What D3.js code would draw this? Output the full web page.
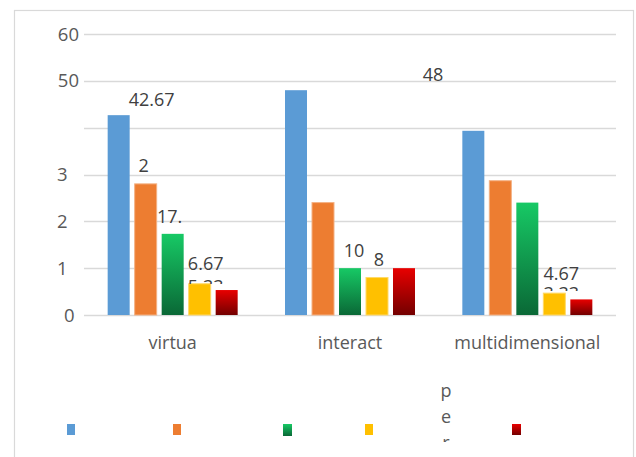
<!DOCTYPE html>
<html>
<head>
<meta charset="utf-8">
<script src="https://cdn.jsdelivr.net/npm/d3@7"></script>
<style>
  body { margin: 0; background: #fff; }
  svg { display: block; font-family: "Open Sans", sans-serif; }
</style>
</head>
<body>
<script>
// ---- data ----
const categories = ["virtua", "interact", "multidimensional"];
const seriesIds = ["s1", "s2", "s3", "s4", "s5"];
const s1Values = [42.67, 48, 39.33];
const s2Values = [28, 24, 28.67];
const s3Values = [17.33, 10, 24];
const s4Values = [6.67, 8, 4.67];
const s5Values = [5.33, 10, 3.33];
// data label text as printed on the chart (some are cut short, some absent)
const s1Labels = ["42.67", "48", ""];
const s2Labels = ["2", "", ""];
const s3Labels = ["17.", "10", ""];
const s4Labels = ["6.67", "8", "4.67"];
const s5Labels = ["5.33", "", "3.33"];
const yTickValues = [0, 10, 20, 30, 40, 50, 60];
const yTickLabels = ["0", "1", "2", "3", "", "50", "60"];
const legendNote = ["p", "e", "r"];

const seriesValues = [s1Values, s2Values, s3Values, s4Values, s5Values];
const seriesLabels = [s1Labels, s2Labels, s3Labels, s4Labels, s5Labels];

// ---- layout ----
const W = 636, H = 457;
const plot = { left: 84, right: 616, top: 34, bottom: 315 };
const fills = ["#5b9bd5", "#ed7d31", "url(#gGreen)", "#ffc000", "url(#gRed)"];
const strokes = ["none", "#f4b183", "none", "#ffd966", "none"];
const legendX = [67, 173, 283, 365, 512];

// label offsets relative to bar centre / bar top
const nudge = {
  "s1|virtua": { dx: 33, dy: -9 },
  "s2|virtua": { dx: -2, dy: -12 },
  "s3|virtua": { dx: -3, dy: -11 },
  "s4|virtua": { dx: 6, dy: -14 },
  "s5|virtua": { dx: -21, dy: 3, clip: 4 },
  "s1|interact": { dx: 137, dy: -9 },
  "s3|interact": { dx: 4, dy: -11 },
  "s4|interact": { dx: 2, dy: -11.5 },
  "s4|multidimensional": { dx: 7, dy: -13 },
  "s5|multidimensional": { dx: -20, dy: 0.6, clip: 4 }
};

const svg = d3.select("body").append("svg").attr("width", W).attr("height", H);
const defs = svg.append("defs");

function vGrad(id, top, bottom) {
  const g = defs.append("linearGradient").attr("id", id)
    .attr("x1", 0).attr("y1", 0).attr("x2", 0).attr("y2", 1);
  g.append("stop").attr("offset", "0%").attr("stop-color", top);
  g.append("stop").attr("offset", "100%").attr("stop-color", bottom);
}
vGrad("gGreen", "#17c965", "#0a6836");
vGrad("gRed", "#e80000", "#730000");

// outer frame
svg.append("rect")
  .attr("x", 14.5).attr("y", 10.5)
  .attr("width", 619).attr("height", 470)
  .attr("fill", "none").attr("stroke", "#d9d9d9").attr("stroke-width", 1.2);

// scales
const y = d3.scaleLinear().domain([0, 60]).range([plot.bottom, plot.top]);
const x0 = d3.scaleBand().domain(categories).range([plot.left, plot.right]).padding(0);
const groupW = 130;
const x1 = d3.scaleBand().domain(seriesIds).range([0, groupW]).paddingInner(5 / 27).paddingOuter(0);
const groupStart = c => x0(c) + (x0.bandwidth() - groupW) / 2;

// gridlines
svg.append("g").selectAll("line").data(yTickValues).join("line")
  .attr("x1", plot.left).attr("x2", plot.right)
  .attr("y1", d => Math.round(y(d)) + 0.5).attr("y2", d => Math.round(y(d)) + 0.5)
  .attr("stroke", "#d9d9d9").attr("stroke-width", 1.3);

// y tick labels
svg.append("g").selectAll("text").data(yTickValues).join("text")
  .text((d, i) => yTickLabels[i])
  .attr("x", (d, i) => {
    const t = yTickLabels[i];
    if (t.length > 1) return 79;
    return d === 0 ? 64 : 57;
  })
  .attr("text-anchor", (d, i) => yTickLabels[i].length > 1 ? "end" : "start")
  .attr("y", d => y(d) + 6.5)
  .attr("font-size", 18.5).attr("fill", "#595959");

// bars
const barData = [];
categories.forEach((c, ci) => {
  seriesIds.forEach((s, si) => {
    barData.push({ c, s, si, v: seriesValues[si][ci], label: seriesLabels[si][ci] });
  });
});

svg.append("g").selectAll("rect").data(barData).join("rect")
  .attr("x", d => groupStart(d.c) + x1(d.s))
  .attr("y", d => y(d.v))
  .attr("width", x1.bandwidth())
  .attr("height", d => y(0) - y(d.v))
  .attr("fill", d => fills[d.si])
  .attr("stroke", d => strokes[d.si])
  .attr("stroke-width", 1);

// data labels
const labelG = svg.append("g");
barData.filter(d => d.label !== "").forEach((d, i) => {
  const n = nudge[d.s + "|" + d.c] || { dx: 0, dy: -12 };
  const cx = groupStart(d.c) + x1(d.s) + x1.bandwidth() / 2 + n.dx;
  const by = y(d.v) + n.dy;
  const t = labelG.append("text")
    .text(d.label)
    .attr("x", cx).attr("y", by)
    .attr("text-anchor", "middle")
    .attr("font-size", 18).attr("fill", "#404040");
  if (n.clip) {
    const id = "clipLbl" + i;
    defs.append("clipPath").attr("id", id).append("rect")
      .attr("x", cx - 40).attr("y", by - 20).attr("width", 80).attr("height", 20 - 13 + n.clip);
    t.attr("clip-path", `url(#${id})`);
  }
});

// category labels
svg.append("g").selectAll("text").data(categories).join("text")
  .text(d => d)
  .attr("x", d => x0(d) + x0.bandwidth() / 2)
  .attr("y", 349)
  .attr("text-anchor", "middle")
  .attr("font-size", 18).attr("fill", "#595959");

// legend swatches
svg.append("g").selectAll("rect").data(seriesIds).join("rect")
  .attr("x", (d, i) => legendX[i])
  .attr("y", 424)
  .attr("width", (d, i) => (i === 2 || i === 4) ? 9 : 8)
  .attr("height", (d, i) => i === 2 ? 12 : 11)
  .attr("fill", (d, i) => fills[i]);

// wrapped legend text, one character per line
defs.append("clipPath").attr("id", "legClip").append("rect")
  .attr("x", 420).attr("y", 370).attr("width", 60).attr("height", 72);
svg.append("g").attr("clip-path", "url(#legClip)")
  .selectAll("text").data(legendNote).join("text")
  .text(d => d)
  .attr("x", 446)
  .attr("y", (d, i) => 396.5 + i * 26)
  .attr("text-anchor", "middle")
  .attr("font-size", 18).attr("fill", "#595959");
</script>
</body>
</html>
